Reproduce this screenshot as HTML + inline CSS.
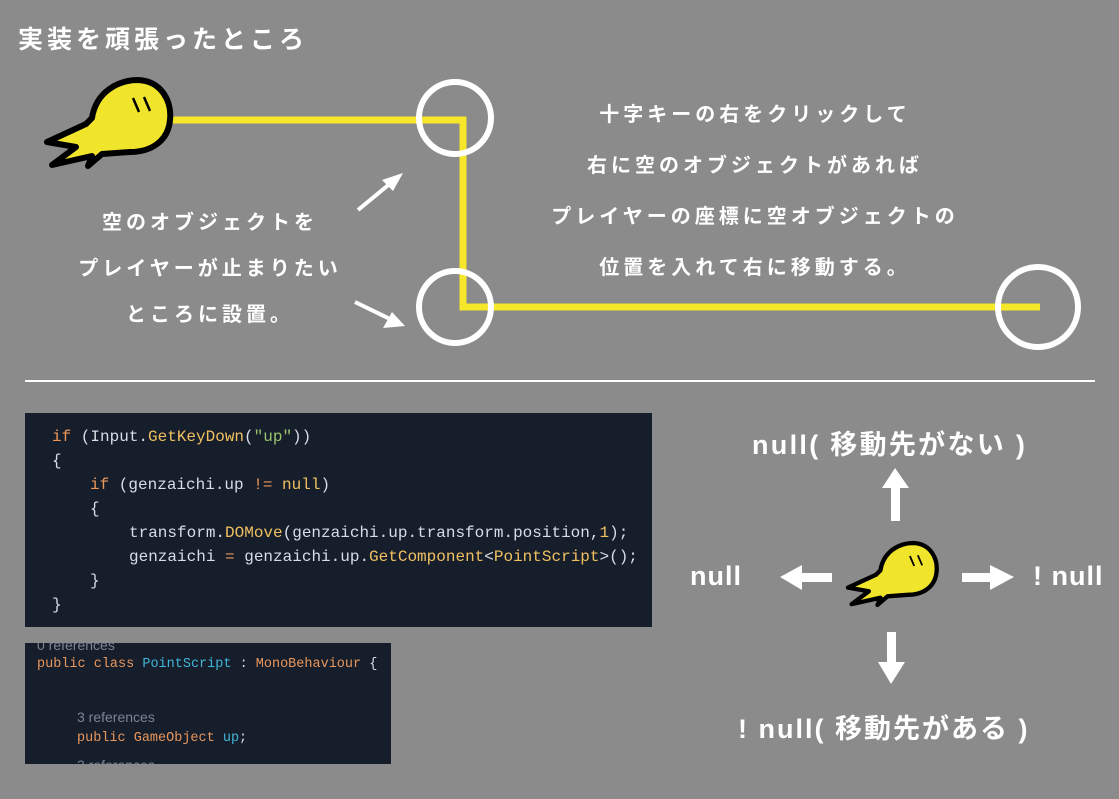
<!DOCTYPE html><html><head><meta charset="utf-8"><style>
body{margin:0;width:1119px;height:799px;background:#8b8b8b;position:relative;overflow:hidden;font-family:"Liberation Sans","Noto Sans CJK JP",sans-serif;color:#fff}
.t{position:absolute;font-weight:bold;white-space:nowrap}
.code{position:absolute;background:#161e2c;font-family:"Liberation Mono","DejaVu Sans Mono",monospace;font-size:16px;color:#d8dce4;white-space:pre}
.code div{position:absolute;left:0}
.k{color:#e9965a}.f{color:#f0c060}.s{color:#98c36a}.c{color:#3fb6d8}.g{color:#7c8494;font-family:"Liberation Sans",sans-serif;font-size:14px}.p{color:#e9965a}
</style></head><body>
<svg width="1119" height="799" style="position:absolute;left:0;top:0">
<defs><g id="ch"><path d="M92,118 C96,92 118,80 138,80 C162,81 172,102 170,120 C168,142 150,152 130,152 L102,154 L88,166 L92,156 L52,165 L76,147 L47,142 L86,124 Z" fill="#f1e52c" stroke="#000" stroke-width="6" stroke-linejoin="round"/><line x1="133" y1="98" x2="139" y2="112" stroke="#000" stroke-width="2.5"/><line x1="144" y1="97" x2="150" y2="111" stroke="#000" stroke-width="2.5"/></g></defs>
<polyline points="172,120 463,120 463,307 1040,307" fill="none" stroke="#f6e72a" stroke-width="7"/>
<use href="#ch"/>
<g fill="none" stroke="#fff" stroke-width="6"><circle cx="455" cy="118" r="36"/><circle cx="455" cy="307" r="36"/><circle cx="1038" cy="307" r="40"/></g>
<g stroke="#fff" stroke-width="4" fill="#fff"><line x1="358" y1="210" x2="392" y2="182"/><polygon points="403,173 382,180 393,191" stroke="none"/><line x1="355" y1="302" x2="392" y2="320"/><polygon points="405,326 383,328 392,312" stroke="none"/></g>
<line x1="25" y1="381" x2="1095" y2="381" stroke="#fff" stroke-width="2"/>
<g fill="#fff"><rect x="891" y="485" width="9" height="36"/><polygon points="882,488 909,488 895,468"/>
<rect x="887" y="632" width="9" height="34"/><polygon points="878,662 905,662 891,684"/>
<rect x="800" y="573" width="32" height="9"/><polygon points="802,565 802,590 780,577"/>
<rect x="962" y="573" width="30" height="9"/><polygon points="990,565 990,590 1014,577"/></g>
<g transform="translate(848,543) scale(0.72) translate(-47,-80)"><use href="#ch"/></g>
</svg>
<div class="t" style="left:18px;top:20px;font-size:25px;letter-spacing:4px">実装を頑張ったところ</div>
<div class="t" style="left:40px;top:200px;width:340px;text-align:center;font-size:20px;letter-spacing:4px;line-height:46px">空のオブジェクトを<br>プレイヤーが止まりたい<br>ところに設置。</div>
<div class="t" style="left:510px;top:90px;width:490px;text-align:center;font-size:20px;letter-spacing:4px;line-height:51px">十字キーの右をクリックして<br>右に空のオブジェクトがあれば<br>プレイヤーの座標に空オブジェクトの<br>位置を入れて右に移動する。</div>
<div class="t" style="left:752px;top:423px;font-size:27px;letter-spacing:2.3px">null( 移動先がない )</div>
<div class="t" style="left:690px;top:561px;font-size:27px;letter-spacing:1px">null</div>
<div class="t" style="left:1033px;top:561px;font-size:27px;letter-spacing:1px">! null</div>
<div class="t" style="left:738px;top:707px;font-size:27px;letter-spacing:2px">! null( 移動先がある )</div>
<div class="code" style="left:25px;top:413px;width:627px;height:214px">
<div style="top:15px;left:27px"><span class="k">if</span> (Input.<span class="f">GetKeyDown</span>(<span class="s">"up"</span>))</div>
<div style="top:39px;left:27px">{</div>
<div style="top:63px;left:65px"><span class="k">if</span> (genzaichi.up <span class="p">!=</span> <span class="f">null</span>)</div>
<div style="top:87px;left:65px">{</div>
<div style="top:111px;left:104px">transform.<span class="f">DOMove</span>(genzaichi.up.transform.position,<span class="f">1</span>);</div>
<div style="top:135px;left:104px">genzaichi <span class="p">=</span> genzaichi.up.<span class="f">GetComponent</span>&lt;<span class="f">PointScript</span>&gt;();</div>
<div style="top:159px;left:65px">}</div>
<div style="top:183px;left:27px">}</div>
</div>
<div class="code" style="left:25px;top:643px;width:366px;height:121px;overflow:hidden;font-size:13.5px">
<div class="g" style="top:-6px;left:12px">0 references</div>
<div style="top:14px;left:12px"><span class="k">public</span> <span class="k">class</span> <span class="c">PointScript</span> : <span class="k">MonoBehaviour</span> {</div>
<div class="g" style="top:66px;left:52px">3 references</div>
<div style="top:88px;left:52px"><span class="k">public</span> <span class="k">GameObject</span> <span class="c">up</span>;</div>
<div class="g" style="top:114px;left:52px">3 references</div>
</div>
</body></html>
